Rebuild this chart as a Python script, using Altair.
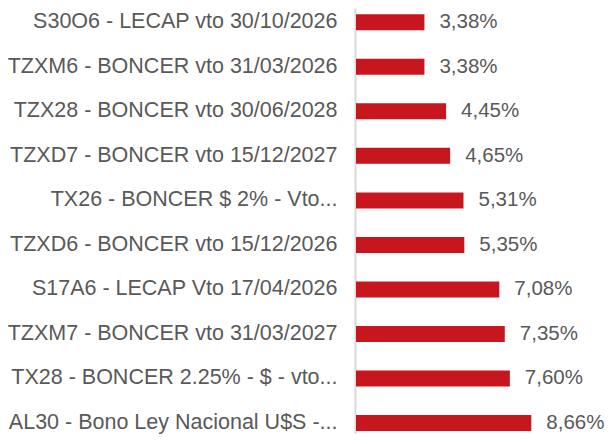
import altair as alt
import pandas as pd

labels = [
    "S30O6 - LECAP vto 30/10/2026",
    "TZXM6 - BONCER vto 31/03/2026",
    "TZX28 - BONCER vto 30/06/2028",
    "TZXD7 - BONCER vto 15/12/2027",
    "TX26 - BONCER $ 2% - Vto...",
    "TZXD6 - BONCER vto 15/12/2026",
    "S17A6 - LECAP Vto 17/04/2026",
    "TZXM7 - BONCER vto 31/03/2027",
    "TX28 - BONCER 2.25% - $ - vto...",
    "AL30 - Bono Ley Nacional U$S -...",
]
values = [3.38, 3.38, 4.45, 4.65, 5.31, 5.35, 7.08, 7.35, 7.60, 8.66]

df = pd.DataFrame({"bono": labels, "tasa": values})
df["texto"] = [f"{v:.2f}".replace(".", ",") + "%" for v in values]

FONT = "Liberation Sans"
GRAY = "#595959"

y_enc = alt.Y(
    "bono:N",
    sort=None,
    title=None,
    scale=alt.Scale(paddingInner=0.6406, paddingOuter=0.1045, align=0.677),
    axis=alt.Axis(
        domainColor="#d9d9d9",
        domainWidth=2,
        ticks=False,
        labelFont=FONT,
        labelFontSize=21.5,
        labelColor=GRAY,
        labelPadding=18,
        labelLimit=400,
        offset=1,
    ),
)
x_enc = alt.X("tasa:Q", axis=None, scale=alt.Scale(domain=[0, 12.3], nice=False))

base = alt.Chart(df)
bars = base.mark_bar(color="#C8161E").encode(y=y_enc, x=x_enc)
text = base.mark_text(
    align="left", baseline="middle", dx=15, font=FONT, fontSize=20.5, color=GRAY
).encode(y=alt.Y("bono:N", sort=None), x=x_enc, text="texto:N")

chart = (
    alt.layer(bars, text)
    .properties(
        width=249,
        height=426,
        padding={"left": 348, "top": 0, "right": 0, "bottom": 0},
        autosize=alt.AutoSizeParams(type="none"),
    )
    .configure_view(stroke=None)
)

chart.save("out.html", embed_options={"renderer": "svg", "actions": False})
